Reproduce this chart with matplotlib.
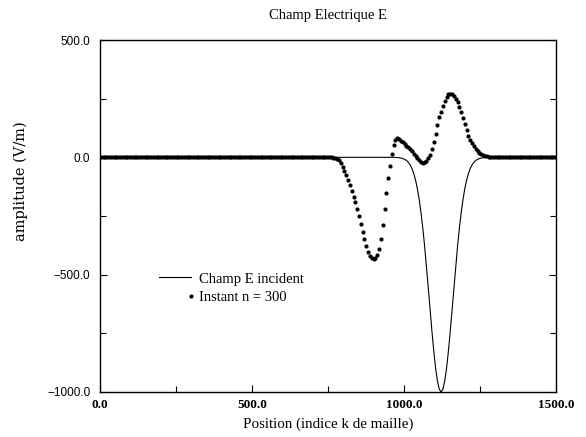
#!/usr/bin/env python3
"""
Champ electrique E : impulsion incidente et instant n = 300.
"""
import matplotlib

matplotlib.use("Agg")
import matplotlib.pyplot as plt
import numpy as np
from matplotlib.legend_handler import HandlerLine2D
from matplotlib.ticker import FuncFormatter, MultipleLocator

# Indices de maille echantillonnes (un point sur 6)
positions = np.arange(0, 1501, 6)

# Instant n = 300 : zone active de k = 756 a k = 1296
instant_avant = [0.0] * 126
instant_impulsion = [
    0, 0, -1, -3, -7, -12, -24, -40, -58, -76,
    -96, -120, -143, -167, -192, -220, -252, -285, -317, -348,
    -377, -402, -420, -431, -434, -430, -416, -392, -350, -290,
    -220, -150, -90, -35, 15, 52, 75, 82, 78, 70,
    64, 58, 50, 42, 34, 25, 16, 6, -4, -13,
    -20, -24, -22, -14, -2, 12, 35, 65, 100, 138,
    170, 195, 220, 240, 256, 268, 272, 270, 262, 250,
    234, 215, 192, 168, 142, 116, 92, 74, 60, 47,
    36, 27, 19, 13, 9, 6, 4, 2, 1, 0,
    0,
]
instant_apres = [0.0] * 34
instant_n300 = np.array(instant_avant + instant_impulsion + instant_apres, dtype=float)

# Champ E incident : zone active de k = 978 a k = 1266
incident_avant = [0.0] * 163
incident_impulsion = [
    -1, -2, -3, -5, -9, -13, -21, -32, -47, -69,
    -97, -134, -180, -237, -304, -381, -467, -558, -652, -743,
    -827, -899, -953, -988, -1000, -988, -953, -899, -827, -743,
    -652, -558, -467, -381, -304, -237, -180, -134, -97, -69,
    -47, -32, -21, -13, -9, -5, -3, -2, -1,
]
incident_apres = [0.0] * 39
champ_incident = np.array(incident_avant + incident_impulsion + incident_apres, dtype=float)

x_ticks = [0.0, 500.0, 1000.0, 1500.0]
y_ticks = [500.0, 0.0, -500.0, -1000.0]


class HandlerPointDroite(HandlerLine2D):
    """Place le point de legende a droite de la zone de la poignee."""

    def get_xdata(self, legend, xdescent, ydescent, width, height, fontsize):
        droite = -xdescent + width
        return np.array([droite, droite]), [droite]


def format_moins(val, pos):
    return f"{val:.1f}".replace("-", "\u2212")


def tracer():
    fig = plt.figure(figsize=(5.86, 4.37), dpi=100)
    ax = fig.add_axes([100 / 586, 1 - 392 / 437, 456 / 586, 352 / 437])

    serif = "Liberation Serif"

    (ligne,) = ax.plot(positions, champ_incident, color="black", lw=0.8,
                       label="Champ E incident", zorder=2)
    (points,) = ax.plot(positions, instant_n300, linestyle="none", marker="o",
                        markersize=3.0, color="black", markeredgewidth=0,
                        label="Instant n = 300", zorder=3)

    ax.set_xlim(0, 1500)
    ax.set_ylim(-1000, 500)
    ax.set_xticks(x_ticks)
    ax.set_yticks(y_ticks)
    ax.xaxis.set_minor_locator(MultipleLocator(250))
    ax.yaxis.set_minor_locator(MultipleLocator(250))
    ax.xaxis.set_major_formatter(FuncFormatter(format_moins))
    ax.yaxis.set_major_formatter(FuncFormatter(format_moins))

    ax.tick_params(which="both", direction="in", right=True, top=False, width=0.8)
    ax.tick_params(which="major", length=5)
    ax.tick_params(which="minor", length=4)
    ax.tick_params(axis="y", which="major", pad=7)
    ax.tick_params(axis="x", which="major", pad=5)
    for spine in ax.spines.values():
        spine.set_linewidth(1.0)

    for lab in ax.get_xticklabels():
        lab.set_fontfamily(serif)
        lab.set_fontweight("bold")
        lab.set_fontsize(9.5)
    for lab in ax.get_yticklabels():
        lab.set_fontfamily("Liberation Sans")
        lab.set_fontsize(8.5)

    ax.set_title("Champ Electrique E", fontfamily=serif, fontsize=10.5, pad=15)
    ax.set_xlabel("Position (indice k de maille)", fontfamily=serif,
                  fontsize=10.8, labelpad=5)
    ax.set_ylabel("amplitude (V/m)", fontfamily="DejaVu Serif", fontsize=10.5)
    ax.yaxis.set_label_coords(-0.158, 0.6)

    ax.legend(handles=[ligne, points], loc="upper left",
              bbox_to_anchor=(0.13, 0.34), frameon=False, borderpad=0,
              borderaxespad=0, handlelength=2.2, handletextpad=0.55,
              labelspacing=0.35, numpoints=1,
              prop={"family": serif, "size": 10.5},
              handler_map={points: HandlerPointDroite()})

    fig.savefig("out.png", dpi=100)
    plt.close(fig)


if __name__ == "__main__":
    tracer()
